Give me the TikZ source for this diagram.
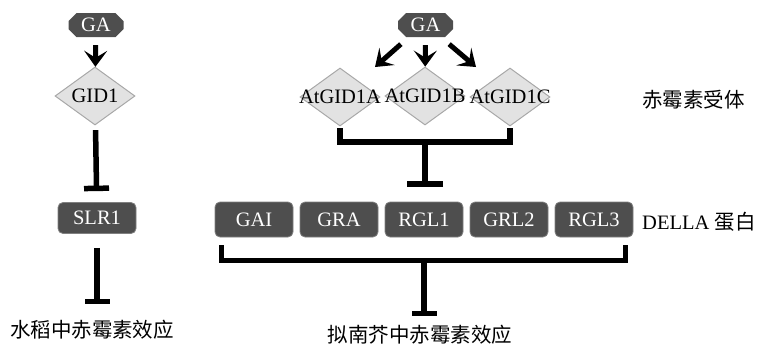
\documentclass[tikz,border=0pt]{standalone}
\usepackage{fontspec}
\setmainfont{Liberation Serif}
\newfontfamily\cjk{Noto Sans CJK SC}
\usetikzlibrary{arrows.meta,shapes.geometric,shapes.misc}
\definecolor{boxgray}{RGB}{78,78,78}
\definecolor{gidfill}{RGB}{226,226,226}
\definecolor{gidedge}{RGB}{168,168,168}

\begin{document}
\begin{tikzpicture}[x=1pt,y=-1pt,
    lab/.style={font=\fontsize{20.5}{24}\selectfont},
    gabox/.style={chamfered rectangle,chamfered rectangle xsep=4pt,chamfered rectangle ysep=4pt,
        fill=boxgray,text=white,minimum width=55pt,minimum height=24pt,inner sep=1pt,lab},
    gid/.style={diamond,fill=gidfill,draw=gidedge,line width=1pt,
        minimum width=80pt,minimum height=58pt,inner sep=0pt},
    della/.style={rounded corners=5pt,fill=boxgray,draw=gray,line width=0.8pt,text=white,
        minimum width=78pt,minimum height=35pt,inner sep=0pt,lab},
    act/.style={line width=5pt,-{Stealth[length=16pt,width=23pt,inset=7pt]}},
    inhib/.style={line width=5.5pt,-{Bar[width=25pt]}},
    bracket/.style={line width=5.5pt}]
    \useasboundingbox (0,0) rectangle (758,346);

    % Rice pathway
    \node[gabox] (gaL) at (96,25) {GA};
    \node[gid,label={[lab]center:GID1}] (gidL) at (95,96) {};
    \node[della,minimum height=31pt] (slr) at (97,218) {SLR1};
    \node[lab,inner sep=0pt] (riceL) at (92,330) {\cjk 水稻中赤霉素效应};
    \draw[act,shorten <=8pt] (gaL) -- (gidL);
    \draw[inhib,shorten <=5pt,shorten >=11pt] (gidL) -- (slr);
    \draw[inhib,shorten <=14pt,shorten >=16pt] (slr.south) -- (slr.south |- riceL.north);

    % Arabidopsis receptors
    \node[gabox] (gaR) at (425.5,25) {GA};
    \node[gid,label={[lab]center:AtGID1A}] (recA) at (340,97) {};
    \node[gid,label={[lab]center:AtGID1B}] (recB) at (425,96) {};
    \node[gid,label={[lab]center:AtGID1C}] (recC) at (510,97) {};
    \coordinate (tipA) at (375,67);
    \coordinate (tipC) at (476,67);
    \draw[act] ([xshift=-1pt,yshift=-11pt]gaR.south west) -- (tipA);
    \draw[act,shorten <=8pt] (gaR) -- (recB);
    \draw[act] ([yshift=-11pt]gaR.south east) -- (tipC);

    % DELLA proteins
    \node[della] (gai) at (254,219.5) {GAI};
    \node[della] (gra) at (339,219.5) {GRA};
    \node[della] (rgl1) at (424,219.5) {RGL1};
    \node[della] (grl2) at (509,219.5) {GRL2};
    \node[della] (rgl3) at (594,219.5) {RGL3};

    % Receptors inhibit DELLA
    \draw[bracket] (recA.south |- 0,128) -- (recA.south |- 0,142) -| (recC.south |- 0,128);
    \draw[inhib,-{Bar[width=36pt]},shorten >=15pt] (recB.south |- 0,142) -- (recB.south |- rgl1.north);

    % Arabidopsis response
    \node[lab,inner sep=0pt] (araL) at (420,335) {\cjk 拟南芥中赤霉素效应};
    \draw[bracket] ([xshift=7pt,yshift=-8pt]gai.south west) |- ([xshift=-8pt,yshift=-23pt]rgl3.south east)
        -- ([xshift=-8pt,yshift=-8pt]rgl3.south east);
    \draw[inhib,shorten >=9pt] (rgl1.south |- 0,260) -- (rgl1.south |- araL.north);

    % Side labels
    \node[lab,anchor=west,inner sep=0pt] (recLab) at (642,100) {\cjk 赤霉素受体};
    \node[lab,anchor=west,inner sep=0pt] (dellaLab) at (642,222) {DELLA \cjk 蛋白};
\end{tikzpicture}
\end{document}
